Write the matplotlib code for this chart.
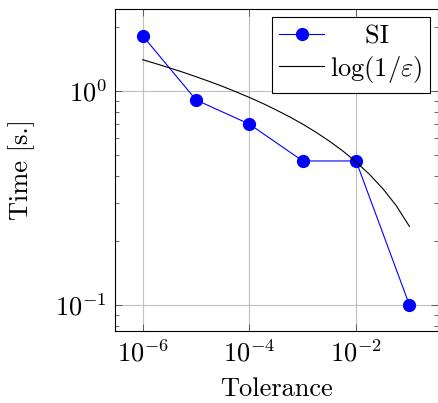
import matplotlib
matplotlib.use("Agg")
import matplotlib.pyplot as plt
from matplotlib.ticker import LogLocator, NullFormatter

plt.rcParams['font.family'] = 'cmr10'
plt.rcParams['mathtext.fontset'] = 'cm'
plt.rcParams['axes.formatter.use_mathtext'] = True
plt.rcParams['font.size'] = 19

# SI timings
tol = [1e-6, 1e-5, 1e-4, 1e-3, 1e-2, 1e-1]
si_time = [1.81, 0.908, 0.70, 0.471, 0.471, 0.10]

# reference curve log(1/eps), read at quarter decades
ref_tol = [1e-6, 1.78e-6, 3.16e-6, 5.62e-6, 1e-5, 1.78e-5, 3.16e-5, 5.62e-5,
           1e-4, 1.78e-4, 3.16e-4, 5.62e-4, 1e-3, 1.78e-3, 3.16e-3, 5.62e-3,
           1e-2, 1.78e-2, 3.16e-2, 5.62e-2, 1e-1]
ref_time = [1.400, 1.341, 1.283, 1.225, 1.166, 1.108, 1.050, 0.991,
            0.933, 0.875, 0.816, 0.758, 0.700, 0.641, 0.583, 0.525,
            0.466, 0.408, 0.350, 0.292, 0.233]

fig = plt.figure(figsize=(4.39, 4.03), dpi=100)
ax = fig.add_axes([0.262, 0.179, 0.735, 0.799])

ax.plot(tol, si_time, color="blue", marker="o", markersize=8.5, linewidth=0.8,
        label="    SI")
ax.plot(ref_tol, ref_time, color="black", linewidth=0.8, label=r"$\log(1/\varepsilon)$")

ax.set_xscale("log")
ax.set_yscale("log")
ax.set_xlim(10 ** -6.52, 10 ** -0.47)
ax.set_ylim(0.0757, 2.42)

ax.set_xticks([1e-6, 1e-4, 1e-2])
ax.xaxis.set_minor_formatter(NullFormatter())
ax.set_yticks([0.1, 1])
ax.yaxis.set_minor_locator(LogLocator(base=10, subs=range(2, 10), numticks=20))
ax.yaxis.set_minor_formatter(NullFormatter())

ax.tick_params(which="both", direction="in", top=True, right=True, width=0.6, color="0.3")
ax.tick_params(which="major", length=5, pad=6)
ax.tick_params(which="minor", length=3)
ax.tick_params(axis="x", which="minor", length=0)
ax.grid(True, which="major", color="0.75", linewidth=0.8)
ax.set_axisbelow(True)
for s in ax.spines.values():
    s.set_linewidth(0.8)

ax.set_xlabel("Tolerance", labelpad=8)
ax.set_ylabel("Time [s.]", labelpad=14)

leg = ax.legend(loc="upper right", fancybox=False, framealpha=1, edgecolor="black",
                borderaxespad=0.3, handlelength=1.7, borderpad=0.3,
                labelspacing=0.2, handletextpad=0.2)
leg.get_frame().set_linewidth(0.8)

fig.savefig("out.png", dpi=100)
